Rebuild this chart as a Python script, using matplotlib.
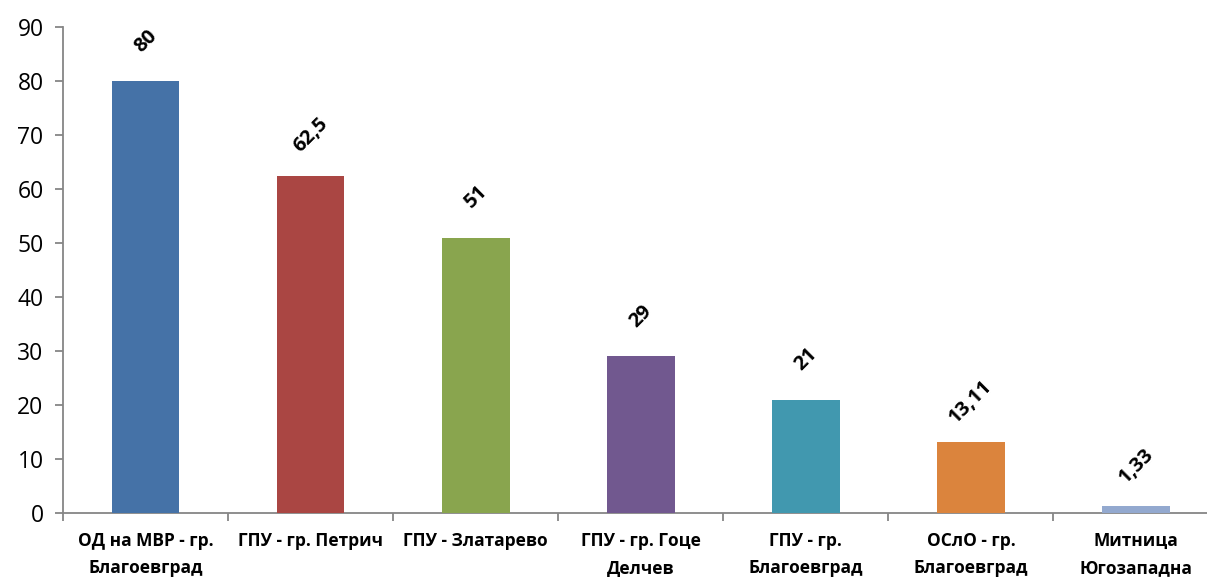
import matplotlib

matplotlib.use('Agg')
import matplotlib.pyplot as plt

categories = [
    'ОД на МВР - гр.\nБлагоевград',
    'ГПУ - гр. Петрич',
    'ГПУ - Златарево',
    'ГПУ - гр. Гоце\nДелчев',
    'ГПУ - гр.\nБлагоевград',
    'ОСлО - гр.\nБлагоевград',
    'Митница\nЮгозападна',
]
values = [80, 62.5, 51, 29, 21, 13.11, 1.33]
value_labels = ['80', '62,5', '51', '29', '21', '13,11', '1,33']
colors = ['#4572A7', '#AA4643', '#89A54E', '#71588F', '#4198AF', '#DB843D', '#93A9CF']
yticks = list(range(0, 91, 10))

plt.rcParams['font.family'] = ['Open Sans', 'DejaVu Sans']
axis_color = '#868686'

dpi = 100
fig = plt.figure(figsize=(12.07, 5.77), dpi=dpi)
ax = fig.add_axes([63 / 1207, 64 / 577, 1144 / 1207, 486 / 577])

x_pos = range(len(values))
ax.bar(x_pos, values, width=0.41, color=colors, zorder=3)

for x, v, lab in zip(x_pos, values, value_labels):
    ax.annotate(lab, (x, v), xytext=(0, 40), textcoords='offset pixels',
                ha='center', va='center', rotation=45, fontsize=14.5,
                fontweight='bold', color='black')

ax.set_ylim(0, 90)
ax.set_xlim(-0.5, 6.43)
ax.set_yticks(yticks)
ax.set_yticklabels([str(t) for t in yticks], fontsize=16.5)

ax.set_xticks([i - 0.5 for i in range(len(values))])
ax.set_xticklabels([])
ax.set_xticks(list(x_pos), minor=True)
ax.set_xticklabels(categories, minor=True, fontsize=12.5, fontweight='bold',
                   linespacing=1.6)
ax.tick_params(axis='x', which='minor', length=0, pad=14)
ax.tick_params(axis='x', which='major', length=6, color=axis_color, width=1.3)
ax.tick_params(axis='y', length=6, color=axis_color, width=1.3, pad=8)

for side in ('top', 'right'):
    ax.spines[side].set_visible(False)
for side in ('left', 'bottom'):
    ax.spines[side].set_color(axis_color)
    ax.spines[side].set_linewidth(1.3)

plt.savefig('out.png', dpi=dpi)
plt.close()
